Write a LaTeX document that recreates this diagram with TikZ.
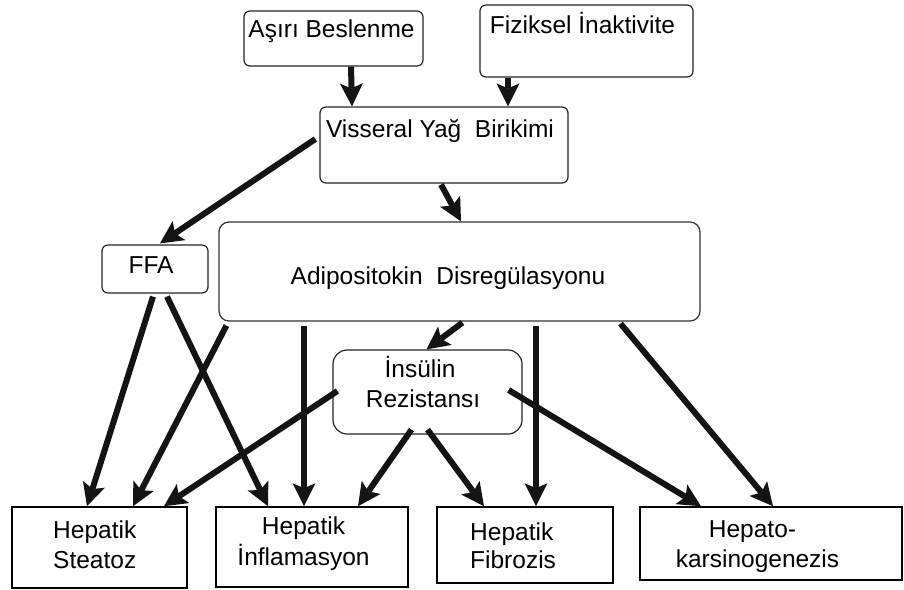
\documentclass[tikz,border=0pt]{standalone}
\usepackage{fontspec}
\setmainfont{Liberation Sans}
\usetikzlibrary{arrows.meta,calc}
\begin{document}
\begin{tikzpicture}[x=1pt,y=-1pt,
  topbox/.style={draw=black!85, line width=1.2pt, rounded corners=6pt, inner sep=0pt},
  midbox/.style={draw=black!80, line width=1.2pt, rounded corners=10pt, inner sep=0pt},
  insbox/.style={draw=black!85, line width=1.2pt, rounded corners=14pt, inner sep=0pt},
  botbox/.style={draw=black, line width=1.6pt, inner sep=0pt},
  txt/.style={font=\fontsize{24.5}{28}\selectfont, inner sep=0pt, anchor=base},
  txtl/.style={txt, anchor=base west},
  arr/.style={line width=6pt, draw=black!92, -{Stealth[length=23pt,width=23pt,inset=5pt,line width=0pt]}},
]
\fill[white] (0,0) rectangle (904,589);
\useasboundingbox (0,0) rectangle (904,589);

% boxes
\node[topbox, minimum width=179pt, minimum height=55pt] (asiri) at (333.5,38.5) {};
\node[topbox, minimum width=213pt, minimum height=72pt] (fiz) at (586.5,41) {};
\node[topbox, minimum width=248pt, minimum height=76pt] (vis) at (444,145) {};
\node[topbox, minimum width=106pt, minimum height=48pt] (ffa) at (155,269) {};
\node[midbox, minimum width=481pt, minimum height=99pt] (adipo) at (459.5,271.5) {};
\node[insbox, minimum width=189pt, minimum height=84pt] (ins) at (427.5,392) {};
\node[botbox, minimum width=175pt, minimum height=81pt] (ste) at (99.5,547.5) {};
\node[botbox, minimum width=192pt, minimum height=80pt] (inf) at (312,547) {};
\node[botbox, minimum width=176pt, minimum height=76pt] (fib) at (525,545) {};
\node[botbox, minimum width=262pt, minimum height=73pt] (hep) at (771,543.5) {};

% texts
\node[txt] (asiriT) at (331.5,37) {Aşırı Beslenme};
\node[txt] (fizT) at (582.5,33) {Fiziksel İnaktivite};
\node[txt] (visT) at (440,137) {Visseral Yağ~~Birikimi};
\node[txt] (ffaT) at (151,273) {FFA};
\node[txt] (adipoT) at (448,284) {Adipositokin~~Disregülasyonu};
\node[txt] (insT1) at (420,377) {İnsülin};
\node[txt] (insT2) at (423,407) {Rezistansı};
\node[txtl] (steT1) at (53,538) {Hepatik};
\node[txtl] (steT2) at (53,568) {Steatoz};
\node[txt] (infT1) at (303.5,534) {Hepatik};
\node[txt] (infT2) at (303.5,565) {İnflamasyon};
\node[txtl] (fibT1) at (470,540) {Hepatik};
\node[txtl] (fibT2) at (470,568) {Fibrozis};
\node[txt] (hepT1) at (752.5,537) {Hepato-};
\node[txt] (hepT2) at (757.5,567) {karsinogenezis};

% arrows
\draw[arr] ($(asiri.south)+(17.5,0)$) -- ($(vis.north)+(-92,0)$);
\draw[arr] ($(fiz.south)+(-78.5,0)$) -- ($(vis.north)+(64,0)$);
\draw[arr] ($(vis.west)+(-4,-6)$) -- ($(ffa.north)+(5,-1)$);
\draw[arr] ($(vis.south)+(-3,1)$) -- ($(adipo.north)+(1.5,0)$);
\draw[arr] ($(ffa.south)+(-2,3)$) -- ($(ste.north)+(-12.5,0)$);
\draw[arr] ($(ffa.south)+(12,3)$) -- ($(inf.north)+(-44,0)$);
\draw[arr] ($(adipo.south west)+(8,4)$) -- ($(ste.north)+(33.5,0)$);
\draw[arr] ($(adipo.south)+(-155.5,4)$) -- ($(inf.north)+(-8,0)$);
\draw[arr] ($(adipo.south)+(3,1)$) -- ($(ins.north)+(-1,0)$);
\draw[arr] ($(adipo.south)+(76.5,4)$) -- ($(fib.north)+(11,0)$);
\draw[arr] ($(adipo.south)+(161,2)$) -- ($(hep.north)+(2,0)$);
\draw[arr] ($(ins.west)+(5,-1)$) -- ($(ste.north)+(64.5,0)$);
\draw[arr] ($(ins.south)+(-16,-5)$) -- ($(inf.north)+(46,0)$);
\draw[arr] ($(ins.south)+(0,-5)$) -- ($(fib.north)+(-41,0)$);
\draw[arr] ($(ins.east)+(-14,-2)$) -- ($(hep.north)+(-70,0)$);
\end{tikzpicture}
\end{document}
